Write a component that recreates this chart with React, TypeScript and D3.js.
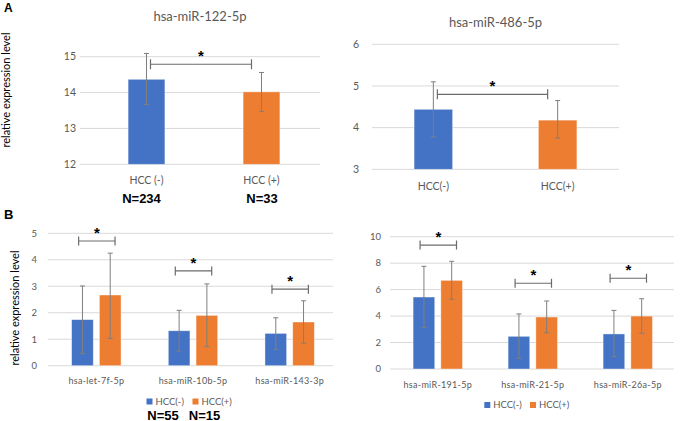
import React from "react";
import * as d3 from "d3";

// ---------- DATA ----------
const seriesKeys = ["HCC(-)", "HCC(+)"];
const seriesColors = ["#4472C4", "#ED7D31"];

// Panel A left
const a1Title = "hsa-miR-122-5p";
const a1Categories = ["HCC (-)", "HCC (+)"];
const a1Values = [14.37, 14.02];
const a1ErrHigh = [15.09, 14.56];
const a1ErrLow = [13.67, 13.47];
const a1Ticks = [12, 13, 14, 15];
const a1Bracket = 14.79;
const a1N = ["N=234", "N=33"];

// Panel A right
const a2Title = "hsa-miR-486-5p";
const a2Categories = ["HCC(-)", "HCC(+)"];
const a2Values = [4.44, 4.18];
const a2ErrHigh = [5.1, 4.65];
const a2ErrLow = [3.78, 3.75];
const a2Ticks = [3, 4, 5, 6];
const a2Bracket = 4.8;

// Panel B left
const b1Categories = ["hsa-let-7f-5p", "hsa-miR-10b-5p", "hsa-miR-143-3p"];
const b1Neg = [1.74, 1.32, 1.22];
const b1NegHigh = [3.01, 2.09, 1.81];
const b1NegLow = [0.47, 0.55, 0.62];
const b1Pos = [2.67, 1.9, 1.65];
const b1PosHigh = [4.25, 3.09, 2.45];
const b1PosLow = [1.03, 0.72, 0.85];
const b1Ticks = [0, 1, 2, 3, 4, 5];
const b1Brackets = [4.71, 3.58, 2.89];
const bN = ["N=55", "N=15"];

// Panel B right
const b2Categories = ["hsa-miR-191-5p", "hsa-miR-21-5p", "hsa-miR-26a-5p"];
const b2Neg = [5.44, 2.47, 2.65];
const b2NegHigh = [7.76, 4.16, 4.43];
const b2NegLow = [3.15, 0.81, 0.93];
const b2Pos = [6.7, 3.93, 4.0];
const b2PosHigh = [8.14, 5.14, 5.31];
const b2PosLow = [5.27, 2.74, 2.7];
const b2Ticks = [0, 2, 4, 6, 8, 10];
const b2Brackets = [9.37, 6.48, 6.86];

const FONT = "Lato, 'Open Sans', 'Liberation Sans', sans-serif";
const BOLD = "'Liberation Sans', Arial, sans-serif";
const GRID = "#d9d9d9";
const TXT = "#595959";
const ERR = "#7f7f7f";

function ErrBar({ x, y1, y2 }: { x: number; y1: number; y2: number }) {
  return (
    <g stroke={ERR} strokeWidth={1}>
      <line x1={x} x2={x} y1={y1} y2={y2} />
      <line x1={x - 2.5} x2={x + 2.5} y1={y1} y2={y1} />
      <line x1={x - 2.5} x2={x + 2.5} y1={y2} y2={y2} />
    </g>
  );
}

function Bracket({ x1, x2, y, h }: { x1: number; x2: number; y: number; h: number }) {
  return (
    <g>
      <g stroke="#6b6b6b" strokeWidth={1.2}>
        <line x1={x1} x2={x2} y1={y} y2={y} />
        <line x1={x1} x2={x1} y1={y - h} y2={y + h} />
        <line x1={x2} x2={x2} y1={y - h} y2={y + h} />
      </g>
      <text x={(x1 + x2) / 2} y={y - 3} textAnchor="middle" fontSize={15} fontWeight="bold" fill="#000" fontFamily={BOLD}>
        *
      </text>
    </g>
  );
}

// Two-bar panel (A)
function PanelA(props: {
  title: string; titleY: number; categories: string[]; values: number[]; hi: number[]; lo: number[];
  ticks: number[]; bracket: number; yTop: number; yBottom: number; rangeX: [number, number];
  gridX: [number, number]; tickX: number; catY: number; barFrac: number;
}) {
  const p = props;
  const y = d3.scaleLinear().domain([p.ticks[0], p.ticks[p.ticks.length - 1]]).range([p.yBottom, p.yTop]);
  const x = d3.scaleBand<string>().domain(p.categories).range(p.rangeX);
  const bw = x.bandwidth() * p.barFrac;
  const cx = (c: string) => (x(c) as number) + x.bandwidth() / 2;
  return (
    <g fontFamily={FONT}>
      <text x={(p.gridX[0] + p.gridX[1]) / 2} y={p.titleY} textAnchor="middle" fontSize={13} fill={TXT}>{p.title}</text>
      {p.ticks.map((t) => (
        <g key={t}>
          <line x1={p.gridX[0]} x2={p.gridX[1]} y1={y(t)} y2={y(t)} stroke={GRID} strokeWidth={1} />
          <text x={p.tickX} y={y(t)} dy="0.35em" textAnchor="end" fontSize={10.5} fill={TXT}>{t}</text>
        </g>
      ))}
      {p.categories.map((c, i) => (
        <g key={c}>
          <rect x={cx(c) - bw / 2} y={y(p.values[i])} width={bw} height={y(p.ticks[0]) - y(p.values[i])}
            fill={seriesColors[i]} stroke="#fff" strokeOpacity={0.5} strokeWidth={0.8} />
          <ErrBar x={cx(c)} y1={y(p.hi[i])} y2={y(p.lo[i])} />
          <text x={cx(c)} y={p.catY} textAnchor="middle" fontSize={10.5} fill={TXT}>{c}</text>
        </g>
      ))}
      <Bracket x1={cx(p.categories[0]) + 4} x2={cx(p.categories[1]) - 10} y={y(p.bracket)} h={5} />
    </g>
  );
}

// Grouped panel (B)
function PanelB(props: {
  categories: string[]; neg: number[]; negHi: number[]; negLo: number[];
  pos: number[]; posHi: number[]; posLo: number[]; ticks: number[]; brackets: number[];
  yTop: number; yBottom: number; rangeX: [number, number]; gridX: [number, number]; tickX: number;
  catY: number; legendY: number; legendX: number[];
}) {
  const p = props;
  const y = d3.scaleLinear().domain([p.ticks[0], p.ticks[p.ticks.length - 1]]).range([p.yBottom, p.yTop]);
  const x0 = d3.scaleBand<string>().domain(p.categories).range(p.rangeX);
  const x1 = d3.scaleBand<string>().domain(seriesKeys).range([-24.7, 24.7]).paddingInner(0.22);
  const cx = (c: string) => (x0(c) as number) + x0.bandwidth() / 2;
  const sets = [
    { v: p.neg, hi: p.negHi, lo: p.negLo },
    { v: p.pos, hi: p.posHi, lo: p.posLo },
  ];
  return (
    <g fontFamily={FONT}>
      {p.ticks.map((t) => (
        <g key={t}>
          <line x1={p.gridX[0]} x2={p.gridX[1]} y1={y(t)} y2={y(t)} stroke={GRID} strokeWidth={1} />
          <text x={p.tickX} y={y(t)} dy="0.35em" textAnchor="end" fontSize={9.5} fill={TXT}>{t}</text>
        </g>
      ))}
      {p.categories.map((c, i) => (
        <g key={c}>
          {seriesKeys.map((s, j) => {
            const bx = cx(c) + (x1(s) as number);
            const d = sets[j];
            return (
              <g key={s}>
                <rect x={bx} y={y(d.v[i])} width={x1.bandwidth()} height={y(p.ticks[0]) - y(d.v[i])}
                  fill={seriesColors[j]} stroke="#fff" strokeOpacity={0.5} strokeWidth={0.8} />
                <ErrBar x={bx + x1.bandwidth() / 2} y1={y(d.hi[i])} y2={y(d.lo[i])} />
              </g>
            );
          })}
          <text x={cx(c)} y={p.catY} textAnchor="middle" fontSize={9} fill={TXT} letterSpacing={0.3}>{c}</text>
          <Bracket x1={cx(c) + (x1(seriesKeys[0]) as number) + 7} x2={cx(c) + (x1(seriesKeys[1]) as number) + x1.bandwidth() - 6}
            y={y(p.brackets[i])} h={4.5} />
        </g>
      ))}
      {seriesKeys.map((s, j) => (
        <g key={s}>
          <rect x={p.legendX[j]} y={p.legendY - 6} width={6} height={6} fill={seriesColors[j]} />
          <text x={p.legendX[j] + 9} y={p.legendY} fontSize={9.5} fill={TXT}>{s}</text>
        </g>
      ))}
    </g>
  );
}

export default function App() {
  return (
    <svg width={685} height={421} style={{ position: "absolute", left: 0, top: 0, background: "#fff" }}>
      <rect width={685} height={421} fill="#fff" />
      <text x={4} y={12} fontSize={12} fontWeight="bold" fontFamily={BOLD}>A</text>
      <text x={4} y={219} fontSize={13} fontWeight="bold" fontFamily={BOLD}>B</text>
      <text transform="translate(10,90) rotate(-90)" textAnchor="middle" fontSize={11} fontFamily={FONT} fill="#000">relative expression level</text>
      <text transform="translate(19,308) rotate(-90)" textAnchor="middle" fontSize={11} fontFamily={FONT} fill="#000">relative expression level</text>

      <PanelA title={a1Title} titleY={21} categories={a1Categories} values={a1Values} hi={a1ErrHigh} lo={a1ErrLow}
        ticks={a1Ticks} bracket={a1Bracket} yTop={56.7} yBottom={164.3} rangeX={[89, 319]} gridX={[80, 320]}
        tickX={76} catY={184} barFrac={0.32} />
      {a1N.map((n, i) => (
        <text key={n} x={[141.5, 262][i]} y={203} textAnchor="middle" fontSize={13} fontWeight="bold"
          fontFamily={BOLD}>{n}</text>
      ))}

      <PanelA title={a2Title} titleY={27} categories={a2Categories} values={a2Values} hi={a2ErrHigh} lo={a2ErrLow}
        ticks={a2Ticks} bracket={a2Bracket} yTop={44.3} yBottom={169.3} rangeX={[371.2, 619.8]} gridX={[372, 619]}
        tickX={359} catY={189.5} barFrac={0.31} />

      <PanelB categories={b1Categories} neg={b1Neg} negHi={b1NegHigh} negLo={b1NegLow} pos={b1Pos} posHi={b1PosHigh}
        posLo={b1PosLow} ticks={b1Ticks} brackets={b1Brackets} yTop={233.3} yBottom={365.7} rangeX={[48, 338]}
        gridX={[48, 333]} tickX={37} catY={384} legendY={404.5} legendX={[146.5, 192.5]} />
      {bN.map((n, i) => (
        <text key={n} x={[163, 204.5][i]} y={419.5} textAnchor="middle" fontSize={13} fontWeight="bold"
          fontFamily={BOLD}>{n}</text>
      ))}

      <PanelB categories={b2Categories} neg={b2Neg} negHi={b2NegHigh} negLo={b2NegLow} pos={b2Pos} posHi={b2PosHigh}
        posLo={b2PosLow} ticks={b2Ticks} brackets={b2Brackets} yTop={236.7} yBottom={369} rangeX={[390.3, 675.3]}
        gridX={[390, 674]} tickX={381} catY={387.5} legendY={408} legendX={[484.3, 530]} />
    </svg>
  );
}
